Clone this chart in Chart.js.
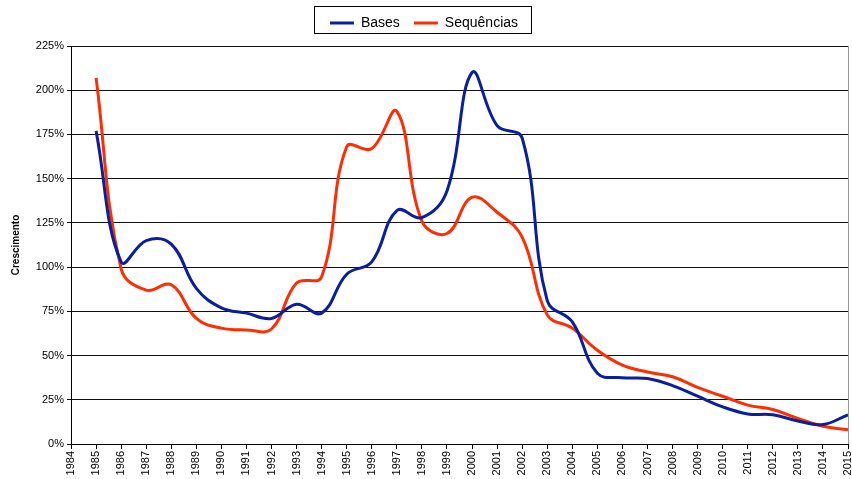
<!DOCTYPE html>
<html lang="pt">
<head>
<meta charset="UTF-8">
<title>Crescimento - Bases e Sequências</title>
<script src="https://cdn.jsdelivr.net/npm/chart.js"></script>
<style>
  html, body { margin: 0; padding: 0; background: #fff; }
  #wrap { width: 852px; height: 479px; }
</style>
</head>
<body>
<div id="wrap"><canvas id="myChart" width="852" height="479"></canvas></div>
<script>
const years = ['1984', '1985', '1986', '1987', '1988', '1989', '1990', '1991', '1992', '1993',
  '1994', '1995', '1996', '1997', '1998', '1999', '2000', '2001', '2002', '2003', '2004',
  '2005', '2006', '2007', '2008', '2009', '2010', '2011', '2012', '2013', '2014', '2015'];

// crescimento anual (%), 1984 sem valor
const bases = [null, 177, 103, 115, 113, 88, 77, 74, 71, 79, 74, 96, 103, 132, 128, 143,
  210, 180, 173, 81, 69, 40, 37.5, 37, 33, 27, 21, 17, 16.5, 13, 11, 16.5];
const sequencias = [null, 207, 99, 87, 90, 71, 65.5, 64.5, 65, 91, 94.5, 168, 167, 188, 126,
  119, 139.5, 131, 117, 73, 65.5, 53, 44.6, 40.7, 38, 32, 27, 22, 19.5, 14.5, 10, 8];

const yTicks = [0, 25, 50, 75, 100, 125, 150, 175, 200, 225];

Chart.defaults.font.family = '"Liberation Sans", Arial, sans-serif';
Chart.defaults.color = '#000';

// mais espaço abaixo da legenda
const legendGap = {
  id: 'legendGap',
  beforeUpdate(chart) {
    const lg = chart.legend;
    if (lg && !lg._gap) {
      const fit = lg.fit;
      lg.fit = function () { fit.call(this); this.height += 6; };
      lg._gap = true;
    }
  }
};

// moldura da legenda e borda direita da área do gráfico
const frame = {
  id: 'frame',
  afterDraw(chart) {
    const ctx = chart.ctx;
    const a = chart.chartArea;
    ctx.save();
    ctx.strokeStyle = '#999';
    ctx.lineWidth = 1;
    ctx.beginPath();
    ctx.moveTo(Math.round(a.right) + 0.5, a.top);
    ctx.lineTo(Math.round(a.right) + 0.5, a.bottom);
    ctx.stroke();

    const boxes = chart.legend.legendHitBoxes;
    if (boxes && boxes.length) {
      const l = Math.min(...boxes.map(b => b.left)) - 16;
      const r = Math.max(...boxes.map(b => b.left + b.width)) + 13;
      ctx.strokeStyle = '#000';
      ctx.strokeRect(Math.round(l) + 0.5, 6.5, Math.round(r - l), 27);
    }
    ctx.restore();
  }
};

const config = {
  type: 'line',
  data: {
    labels: years,
    datasets: [{
      label: 'Bases',
      data: bases,
      borderColor: '#0A1F9E',
      backgroundColor: '#0A1F9E',
      borderWidth: 3,
      pointRadius: 0,
      tension: 0.4,
      pointStyle: 'line'
    }, {
      label: 'Sequências',
      data: sequencias,
      borderColor: '#FF2D00',
      backgroundColor: '#FF2D00',
      borderWidth: 3,
      pointRadius: 0,
      tension: 0.4,
      pointStyle: 'line'
    }]
  },
  options: {
    responsive: false,
    animation: false,
    layout: { padding: { left: 0, right: 4, top: 2, bottom: 0 } },
    plugins: {
      legend: {
        position: 'top',
        labels: {
          usePointStyle: true,
          pointStyleWidth: 24,
          boxHeight: 3,
          padding: 14,
          font: { size: 14 },
          color: '#000'
        }
      },
      tooltip: { enabled: false }
    },
    scales: {
      x: {
        type: 'category',
        offset: false,
        grid: { drawOnChartArea: false, color: '#000', tickLength: 5 },
        border: { color: '#000' },
        ticks: { autoSkip: false, maxRotation: 90, minRotation: 90, font: { size: 11 }, padding: 2 },
        afterFit: s => { s.height = 35; s.paddingRight = 0; }
      },
      y: {
        min: 0,
        max: 225,
        afterBuildTicks: s => { s.ticks = yTicks.map(v => ({ value: v })); },
        ticks: { callback: v => v + '%', font: { size: 11 }, padding: 3 },
        grid: { color: '#111', tickLength: 4 },
        border: { color: '#000' },
        title: {
          display: true,
          text: 'Crescimento',
          font: { size: 10, weight: 'bold' },
          padding: { top: 10, bottom: 0 }
        },
        afterFit: s => { s.width = 71; }
      }
    }
  },
  plugins: [legendGap, frame]
};

const myChart = new Chart(document.getElementById('myChart'), config);
</script>
</body>
</html>
